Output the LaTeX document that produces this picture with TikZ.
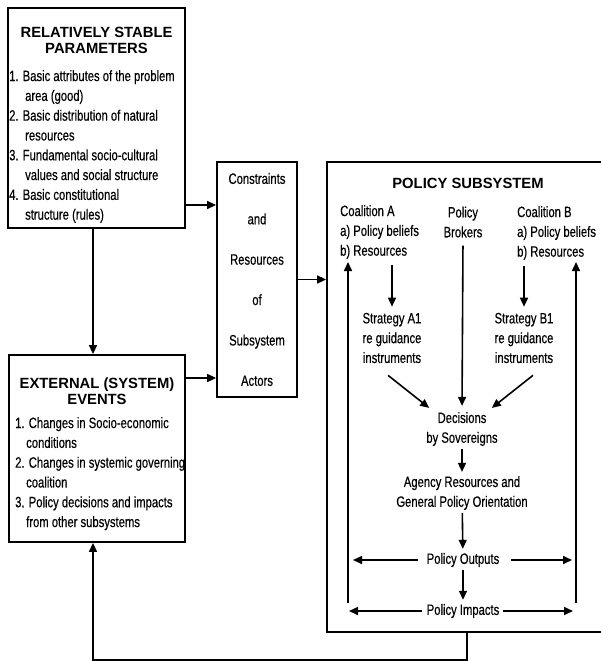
\documentclass[tikz,border=0pt]{standalone}
\usepackage{fontspec}
\setmainfont{Liberation Sans}[FakeStretch=0.75,FakeBold=0.4]
\newfontfamily\headfont{Liberation Sans}
\usetikzlibrary{arrows.meta,positioning,calc}

\tikzset{
  box/.style={draw,line width=1.8pt,inner sep=0pt},
  arr/.style={-{Triangle[length=9pt,width=8pt]},line width=1.6pt},
  txt/.style={font=\fontsize{15}{19.8}\selectfont,inner sep=2pt},
  head/.style={font=\headfont\bfseries\fontsize{14.8}{16}\selectfont,align=center,inner sep=0pt},
}

\begin{document}
\begin{tikzpicture}[x=1pt,y=-1pt]
    \useasboundingbox (0,0) rectangle (601,661);
    \coordinate (xv) at (93,0);
    \coordinate (ya) at (0,205);
    \coordinate (yb) at (0,378);
    \coordinate (ybot) at (0,660);
    % left column
    \node[box,minimum width=177pt,minimum height=220pt] (stable) at (96.5,118) {};
    \node[head] (stabletitle) at (96.5,40) {RELATIVELY STABLE\\PARAMETERS};
    \node[txt,align=left,anchor=north west] (stablelist) at (7,68) {1. Basic attributes of the problem\\
      \hspace*{16pt}area (good)\\
      2. Basic distribution of natural\\
      \hspace*{16pt}resources\\
      3. Fundamental socio-cultural\\
      \hspace*{16pt}values and social structure\\
      4. Basic constitutional\\
      \hspace*{16pt}structure (rules)};
    \node[box,minimum width=176pt,minimum height=187pt] (events) at (97,448.5) {};
    \node[head] (eventstitle) at (97,391) {EXTERNAL (SYSTEM)\\EVENTS};
    \node[txt,align=left,anchor=north west] (eventslist) at (13,415) {1. Changes in Socio-economic\\
      \hspace*{11pt}conditions\\
      2. Changes in systemic governing\\
      \hspace*{11pt}coalition\\
      3. Policy decisions and impacts\\
      \hspace*{11pt}from other subsystems};
    % constraints
    \node[box,align=center,minimum width=80pt,minimum height=235pt,
      font=\fontsize{15}{40.4}\selectfont] (constr) at (257,279.5)
      {Constraints\\and\\Resources\\of\\Subsystem\\Actors};
    % policy subsystem
    \node[box,minimum width=280pt,minimum height=470pt] (policy) at (467,397) {};
    \node[head] (policytitle) at (468,183) {POLICY SUBSYSTEM};
    \node[txt,align=left,anchor=west] (coalA) at (338,232) {Coalition A\\a) Policy beliefs\\b) Resources};
    \node[txt,align=center] (brokers) at (463,222) {Policy\\Brokers};
    \node[txt,align=left,anchor=west] (coalB) at (515,233) {Coalition B\\a) Policy beliefs\\b) Resources};
    \node[txt,align=center] (stratA) at (392,338) {Strategy A1\\re guidance\\instruments};
    \node[txt,align=center] (stratB) at (524,338) {Strategy B1\\re guidance\\instruments};
    \node[txt,align=center] (decisions) at (462,429) {Decisions\\by Sovereigns};
    \node[txt,align=center] (agency) at (462,493) {Agency Resources and\\General Policy Orientation};
    \node[txt] (outputs) at (463,560) {Policy Outputs};
    \node[txt] (impacts) at (463,611) {Policy Impacts};
    \coordinate (lbot) at (348,603);
    \coordinate (ltop) at (348,262);
    \coordinate (rbot) at (576,603);
    \coordinate (rtop) at (576,262);

    % connectors
    \draw[arr] (stable.east |- ya) -- (constr.west |- ya);
    \draw[arr] (events.east |- yb) -- (constr.west |- yb);
    \draw[arr] (stable.south -| xv) -- (events.north -| xv);
    \draw[arr] (constr.east) -- (constr.east -| policy.west);
    \draw[arr] (policy.south) -- (policy.south |- ybot) -| (events.south -| xv);

    \draw[arr,shorten <=4pt,shorten >=4pt] (stratA.north |- coalA.south) -- (stratA.north);
    \draw[arr,shorten <=4pt,shorten >=4pt] (stratB.north |- coalB.south) -- (stratB.north);
    \draw[arr,shorten <=6pt,shorten >=4pt] (brokers.south) -- (decisions.north);
    \draw[arr] ($(stratA.south)+(-4,10)$) -- ($(decisions.north west)+(5,-2)$);
    \draw[arr] ($(stratB.south)+(9,10)$) -- ($(decisions.north east)+(-8,-2)$);
    \foreach \a/\b in {decisions/agency,agency/outputs,outputs/impacts}{
      \draw[arr,shorten <=1pt,shorten >=2pt] (\a) -- (\b);
    }
    \draw[arr,shorten <=7pt,shorten >=5pt] (outputs.west) -- (outputs.west -| lbot);
    \draw[arr,shorten <=10pt,shorten >=4pt] (outputs.east) -- (outputs.east -| rbot);
    \draw[arr,shorten <=3pt,shorten >=1pt] (impacts.west) -- (impacts.west -| lbot);
    \draw[arr,shorten <=2pt,shorten >=3pt] (impacts.east) -- (impacts.east -| rbot);
    \draw[arr] (lbot) -- (ltop);
    \draw[arr] (rbot) -- (rtop);
\end{tikzpicture}
\end{document}
